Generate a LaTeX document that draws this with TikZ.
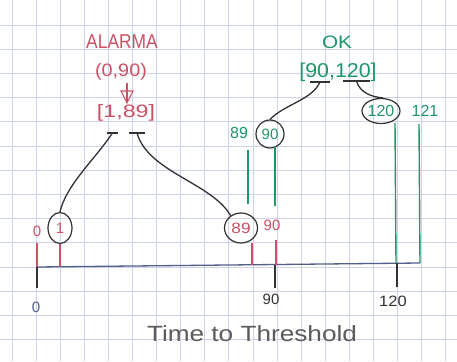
\documentclass[tikz,border=0pt]{standalone}
\usepackage{fontspec}
\setmainfont{Liberation Sans}
\usetikzlibrary{shapes.geometric}
\definecolor{redink}{RGB}{205,80,100}
\definecolor{greenink}{RGB}{30,150,105}
\definecolor{axisink}{RGB}{80,95,140}
\definecolor{ink}{RGB}{50,50,50}
\definecolor{gridc}{RGB}{206,210,232}
\newcommand\hsc[2]{\scalebox{#1}[1]{#2}}
\newcommand\fsz[1]{\fontsize{#1}{#1}\selectfont}
\begin{document}
\begin{tikzpicture}[x=1pt,y=-1pt,
  gridline/.style={gridc, line width=0.9pt},
  redtxt/.style={text=redink, inner sep=0pt},
  greentxt/.style={text=greenink, inner sep=0pt},
  ring/.style={ellipse, draw=ink, line width=1.2pt, inner sep=0pt},
  conn/.style={ink, line width=1.3pt},
  uline/.style={inner sep=0pt, minimum height=0pt},
  redtick/.style={redink, line width=1.3pt},
  greentick/.style={greenink, line width=1.4pt},
  blacktick/.style={ink, line width=1.2pt},
  axisline/.style={axisink, line width=1.3pt}]
\useasboundingbox (0,0) rectangle (457,361);
\fill[white] (0,0) rectangle (457,361);
% grid paper
\foreach \i in {0,...,18} \draw[gridline] ({12+24.1*\i},0) -- ({12+24.1*\i},361);
\foreach \j in {0,...,13} \draw[gridline] (0,{25+24.2*\j}) -- (457,{25+24.2*\j});

% axis
\coordinate (a0) at (37,267);
\coordinate (aend) at (420,263);
\draw[axisline] (a0) -- (aend);
\draw[blacktick] (37,267) -- (37,288);
\draw[blacktick] (275,264.5) -- (275,288);
\draw[blacktick] (397,263.2) -- (397,287);
\node[text=axisink, inner sep=0pt, font=\fsz{15}] (l0) at (36,307) {0};
\node[text=ink, inner sep=0pt, font=\fsz{15}] (l90) at (271,299) {90};
\node[text=ink, inner sep=0pt, font=\fsz{15}] (l120) at (393,301) {\hsc{1.1}{120}};
\node[text=ink!80, inner sep=0pt, font=\fsz{22}] (title) at (252,334) {\hsc{1.19}{Time to Threshold}};

% red part
\node[redtxt, font=\fsz{20}] (alarma) at (122,42) {\hsc{0.87}{ALARMA}};
\node[redtxt, font=\fsz{18}] (range) at (121,72) {\hsc{1.1}{(0,90)}};
\draw[redink, line width=1.1pt] (127,83) -- (127,102);
\draw[redink, line width=1.1pt] (121,91) -- (133,91) -- (127,103) -- cycle;
\node[redtxt, font=\fsz{18}] (set) at (126,113) {\hsc{1.29}{[1,89]}};
\node[uline, minimum width=11pt] (ua) at (112.5,133) {};
\node[uline, minimum width=16pt] (ub) at (137,133) {};
\draw[conn] (ua.west) -- (ua.east);
\draw[conn] (ub.west) -- (ub.east);

\node[redtxt, font=\fsz{15}] (z0) at (37,231) {0};
\node[ring, minimum width=24pt, minimum height=31pt, text=redink, font=\fsz{15}] (c1) at (60,228) {1};
\node[ring, minimum width=33pt, minimum height=30pt, text=redink, font=\fsz{15}] (c89) at (241,228) {\hsc{1.15}{89}};
\node[redtxt, font=\fsz{15}] (r90) at (272,225) {90};
\draw[redtick] (37,243) -- (a0);
\draw[redtick] (c1.south) -- (60,266.8);
\draw[redtick] (252,243) -- (252,264.8);
\draw[redtick] (276,240) -- (276,264.5);

\draw[conn] (ua.center) .. controls (96,158) and (66,185) .. (c1.north);
\draw[conn] (ub.center) .. controls (148,172) and (212,183) .. (c89.130);

% green part
\node[greentxt, font=\fsz{18}] (ok) at (337,42) {\hsc{1.15}{OK}};
\node[greentxt, font=\fsz{20}] (gset) at (338,72) {\hsc{1.07}{[90,120]}};
\node[uline, minimum width=20pt] (ug) at (320,82) {};
\node[uline, minimum width=27pt] (uh) at (356.5,81) {};
\draw[conn] (ug.west) -- (ug.east);
\draw[conn] (uh.west) -- (uh.east);

\node[greentxt, font=\fsz{16}] (g89) at (239,133) {89};
\node[ring, minimum width=28pt, minimum height=28pt, text=greenink, font=\fsz{15}] (c90) at (270,134) {90};
\node[ring, minimum width=38pt, minimum height=25pt, text=greenink, font=\fsz{16}] (c120) at (381,111) {120};
\node[greentxt, font=\fsz{16}] (g121) at (425,111) {121};

\draw[greentick] (248,150) -- (248,204);
\draw[greentick] (275,147) -- (275,206);
\draw[greentick] (395,123) -- (396,263.2);
\draw[greentick] (419,124) -- (420,263);

\draw[conn] (ug.center) .. controls (312,100) and (285,104) .. (c90.north);
\draw[conn] (uh.center) .. controls (360,93) and (372,97) .. (c120.80);
\end{tikzpicture}
\end{document}
